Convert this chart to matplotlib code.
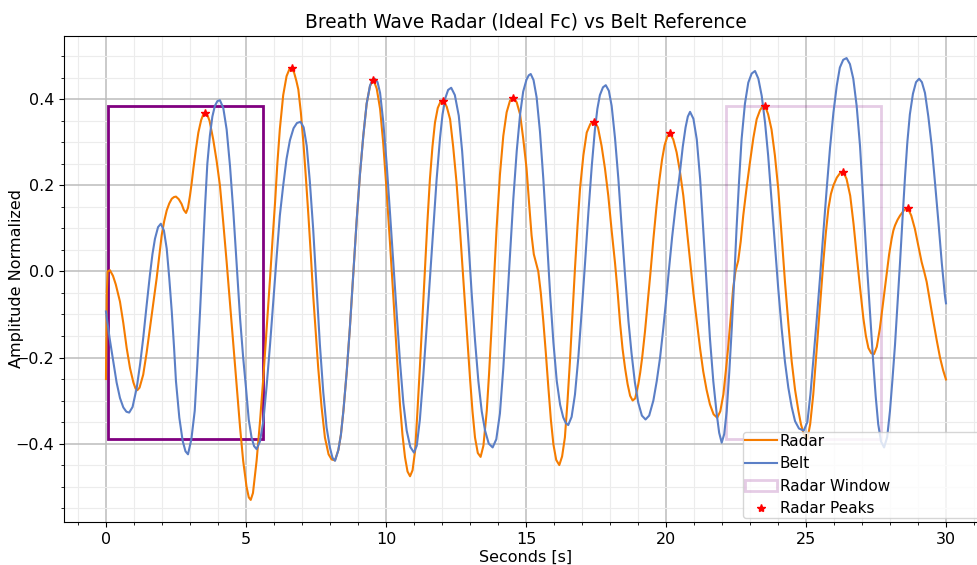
import numpy as np
import matplotlib
matplotlib.use("Agg")
import matplotlib.pyplot as plt
from matplotlib.patches import Rectangle
from matplotlib.ticker import MultipleLocator

# radar signal (time [s], amplitude)
radar_t = [0, 0.03, 0.06, 0.14, 0.25, 0.35, 0.5, 0.62, 0.74, 0.86, 0.98, 1.05, 1.12,
           1.2, 1.33, 1.45, 1.57, 1.69, 1.81, 1.9, 1.99, 2.08, 2.17, 2.26, 2.35, 2.43, 2.5,
           2.6, 2.7, 2.78, 2.86, 2.93, 3.0, 3.06, 3.12, 3.21, 3.3, 3.4, 3.47, 3.54,
           3.62, 3.7, 3.83, 3.95, 4.07, 4.19, 4.31, 4.43, 4.55, 4.67, 4.79, 4.9, 5.02, 5.1, 5.17,
           5.25, 5.38, 5.5, 5.62, 5.74, 5.86, 5.95, 6.04, 6.12, 6.21, 6.33, 6.45, 6.55, 6.63,
           6.72, 6.8, 6.87, 6.96, 7.05, 7.14, 7.23, 7.32, 7.4, 7.49, 7.58, 7.7, 7.82, 7.95, 8.06, 8.18,
           8.3, 8.39, 8.48, 8.6, 8.71, 8.83, 8.95, 9.07, 9.19, 9.31, 9.43, 9.55,
           9.67, 9.79, 9.9, 10.02, 10.14, 10.26, 10.38, 10.5, 10.59, 10.68, 10.77, 10.86,
           10.95, 11.04, 11.12, 11.21, 11.3, 11.39, 11.48, 11.57, 11.66, 11.75, 11.85, 11.95, 12.05,
           12.17, 12.29, 12.4, 12.52, 12.64, 12.76, 12.88, 13.0, 13.09, 13.18, 13.28, 13.38,
           13.48, 13.6, 13.68, 13.77, 13.86, 13.95, 14.07, 14.19, 14.31, 14.43, 14.55,
           14.67, 14.79, 14.9, 15.02, 15.11, 15.2, 15.28, 15.36, 15.44, 15.53, 15.62, 15.71, 15.8,
           15.89, 15.98, 16.08, 16.19,
           16.29, 16.39, 16.48, 16.57, 16.66, 16.75, 16.84, 16.93, 17.05, 17.17, 17.3, 17.44,
           17.57, 17.7, 17.82, 17.94, 18.06, 18.18, 18.27, 18.36, 18.45, 18.54, 18.63, 18.72, 18.81,
           18.9, 19.01, 19.08, 19.15, 19.25, 19.35, 19.45, 19.55, 19.66, 19.76, 19.86, 19.95, 20.05, 20.14,
           20.26, 20.38, 20.5, 20.62, 20.74, 20.86, 20.98, 21.1, 21.22, 21.33, 21.45, 21.57, 21.7, 21.83,
           21.94, 22.05, 22.14, 22.23, 22.32, 22.4, 22.48, 22.58, 22.67, 22.76, 22.88, 23.0, 23.12,
           23.24, 23.36, 23.45, 23.54,
           23.65, 23.77, 23.89, 24.01, 24.13, 24.25, 24.37, 24.49, 24.61, 24.73, 24.82, 24.92, 25.05,
           25.15, 25.26, 25.35, 25.44, 25.53, 25.62, 25.71, 25.8, 25.89, 25.98, 26.1, 26.22, 26.33,
           26.45, 26.58, 26.7, 26.81, 26.93, 27.05, 27.14, 27.23, 27.33, 27.43,
           27.53, 27.64, 27.76, 27.88, 27.97, 28.06, 28.12, 28.18, 28.27, 28.36, 28.5, 28.63,
           28.76, 28.89, 29.01, 29.13, 29.22, 29.31, 29.43, 29.55, 29.67, 29.79, 29.9, 30.0]
radar_v = [-0.25, -0.05, 0.0, 0.003, -0.01, -0.03, -0.07, -0.12, -0.178, -0.225, -0.258, -0.271, -0.276,
           -0.27, -0.24, -0.19, -0.132, -0.075, -0.016, 0.035, 0.084, 0.117, 0.142, 0.158, 0.169, 0.173, 0.174,
           0.168, 0.157, 0.143, 0.136, 0.148, 0.176, 0.205, 0.238, 0.283, 0.323, 0.352, 0.364, 0.369,
           0.364, 0.35, 0.307, 0.258, 0.2, 0.113, 0.022, -0.075, -0.17, -0.268, -0.363, -0.44, -0.5, -0.525, -0.531,
           -0.515, -0.44, -0.35, -0.247, -0.132, -0.016, 0.075, 0.161, 0.25, 0.331, 0.41, 0.454, 0.47, 0.473,
           0.462, 0.443, 0.423, 0.37, 0.3, 0.218, 0.13, 0.035, -0.055, -0.14, -0.224, -0.315, -0.386, -0.425, -0.437, -0.439,
           -0.415, -0.38, -0.324, -0.232, -0.132, -0.01, 0.115, 0.225, 0.315, 0.39, 0.431, 0.446,
           0.425, 0.378, 0.3, 0.19, 0.07, -0.055, -0.185, -0.309, -0.38, -0.432, -0.465, -0.476,
           -0.462, -0.417, -0.33, -0.224, -0.11, 0.007, 0.115, 0.215, 0.29, 0.346, 0.38, 0.395, 0.397,
           0.383, 0.354, 0.29, 0.207, 0.1, -0.016, -0.135, -0.247, -0.325, -0.386, -0.422, -0.431,
           -0.405, -0.324, -0.24, -0.132, -0.015, 0.099, 0.225, 0.315, 0.37, 0.397, 0.404,
           0.393, 0.365, 0.31, 0.24, 0.16, 0.084, 0.04, 0.02, 0.0, -0.05, -0.116, -0.19, -0.27,
           -0.345, -0.402, -0.438, -0.45,
           -0.43, -0.386, -0.305, -0.209, -0.1, 0.007, 0.105, 0.192, 0.27, 0.323, 0.343, 0.348,
           0.335, 0.292, 0.24, 0.176, 0.095, 0.02, -0.045, -0.12, -0.18, -0.225, -0.262, -0.289, -0.3,
           -0.295, -0.263, -0.235, -0.2, -0.14, -0.07, 0.0, 0.075, 0.15, 0.21, 0.26, 0.293, 0.314, 0.321,
           0.307, 0.277, 0.232, 0.176, 0.1, 0.022, -0.05, -0.116, -0.18, -0.232, -0.275, -0.309, -0.332, -0.34,
           -0.325, -0.286, -0.23, -0.17, -0.1, -0.039, 0.0, 0.025, 0.07, 0.13, 0.195, 0.254, 0.31,
           0.354, 0.375, 0.383, 0.385,
           0.365, 0.33, 0.27, 0.192, 0.085, -0.024, -0.12, -0.209, -0.275, -0.324, -0.355, -0.378, -0.39,
           -0.355, -0.286, -0.21, -0.132, -0.055, 0.022, 0.09, 0.146, 0.18, 0.2, 0.218, 0.229, 0.232,
           0.215, 0.176, 0.11, 0.038, -0.037, -0.109, -0.15, -0.178, -0.19, -0.192,
           -0.175, -0.132, -0.07, -0.008, 0.04, 0.076, 0.095, 0.107, 0.12, 0.13, 0.142, 0.148,
           0.13, 0.099, 0.06, 0.022, 0.0, -0.024, -0.07, -0.116, -0.16, -0.201, -0.23, -0.251]

# belt reference signal
belt_t = [0, 0.13, 0.26, 0.38, 0.5, 0.62, 0.73, 0.83, 0.95, 1.1, 1.22, 1.33, 1.45, 1.57, 1.66, 1.75,
          1.86, 1.96, 2.07, 2.17, 2.26, 2.35, 2.43, 2.5, 2.62, 2.74, 2.84, 2.93, 3.05, 3.17, 3.26,
          3.36, 3.45, 3.54, 3.62, 3.71, 3.8, 3.89, 3.98, 4.07, 4.19, 4.31, 4.43, 4.55, 4.67, 4.79,
          4.9, 5.0, 5.1, 5.2, 5.29, 5.38, 5.5, 5.62, 5.74, 5.86, 5.98, 6.1, 6.21, 6.33, 6.45, 6.57,
          6.7, 6.82, 6.95, 7.06, 7.17, 7.28, 7.4, 7.52, 7.64, 7.76, 7.88, 8.0, 8.09, 8.18,
          8.3, 8.39, 8.48, 8.6, 8.71, 8.83, 8.95, 9.07, 9.19, 9.31, 9.43, 9.52, 9.6,
          9.7, 9.79, 9.9, 10.02, 10.14, 10.26, 10.38, 10.5, 10.62, 10.74, 10.87, 11.0,
          11.1, 11.21, 11.33, 11.45, 11.57, 11.69, 11.81, 11.93, 12.02, 12.12, 12.22, 12.33,
          12.46, 12.6, 12.72, 12.83, 12.95, 13.06, 13.18, 13.3, 13.42, 13.54, 13.67, 13.81,
          13.94, 14.07, 14.19, 14.31, 14.43, 14.55, 14.67, 14.79, 14.9, 15.02, 15.1, 15.17,
          15.27, 15.38, 15.5, 15.62, 15.74, 15.86, 15.98, 16.1, 16.22, 16.33, 16.42, 16.51,
          16.63, 16.75, 16.87, 16.99, 17.11, 17.23, 17.35, 17.46, 17.55, 17.64, 17.75, 17.85,
          17.96, 18.06, 18.18, 18.3, 18.42, 18.54, 18.66, 18.77, 18.89, 19.01, 19.14, 19.27,
          19.4, 19.55, 19.67, 19.79, 19.9, 20.0, 20.1, 20.22, 20.35, 20.48, 20.6, 20.7, 20.78, 20.86,
          20.98, 21.1, 21.22, 21.33, 21.45, 21.57, 21.69, 21.81, 21.9, 21.99,
          22.08, 22.17, 22.26, 22.35, 22.44, 22.52, 22.61, 22.7, 22.82, 22.94, 23.06, 23.18,
          23.3, 23.42, 23.54, 23.65, 23.77, 23.89, 24.01, 24.13, 24.25, 24.37, 24.49, 24.61, 24.75, 24.92,
          25.05, 25.16, 25.26, 25.38, 25.5, 25.62, 25.74, 25.86, 25.98, 26.1, 26.21, 26.33, 26.45,
          26.57, 26.69, 26.81, 26.93, 27.05, 27.17, 27.29, 27.4, 27.49, 27.58, 27.68, 27.79,
          27.9, 28.0, 28.09, 28.18, 28.27, 28.36, 28.45, 28.54, 28.62, 28.71, 28.82, 28.93, 29.04,
          29.14, 29.25, 29.37, 29.49, 29.61, 29.73, 29.85, 29.96, 30.0]
belt_v = [-0.093, -0.155, -0.209, -0.258, -0.294, -0.316, -0.326, -0.328, -0.315, -0.27, -0.215, -0.155, -0.08, -0.008, 0.04, 0.076,
          0.103, 0.111, 0.095, 0.053, -0.015, -0.093, -0.175, -0.255, -0.34, -0.394, -0.418, -0.425, -0.39, -0.324, -0.22,
          -0.093, 0.03, 0.153, 0.25, 0.315, 0.36, 0.385, 0.396, 0.398, 0.38, 0.33, 0.245, 0.138, 0.015, -0.109,
          -0.2, -0.27, -0.345, -0.386, -0.406, -0.413, -0.395, -0.348, -0.265, -0.17, -0.065, 0.038, 0.13, 0.2, 0.262, 0.305,
          0.333, 0.345, 0.348, 0.335, 0.292, 0.21, 0.099, -0.035, -0.17, -0.28, -0.363, -0.41, -0.433, -0.44,
          -0.415, -0.38, -0.324, -0.232, -0.132, -0.01, 0.115, 0.225, 0.315, 0.39, 0.432, 0.446, 0.448,
          0.44, 0.415, 0.35, 0.254, 0.14, 0.022, -0.095, -0.209, -0.305, -0.37, -0.408, -0.421,
          -0.405, -0.345, -0.245, -0.132, -0.015, 0.099, 0.215, 0.31, 0.365, 0.403, 0.422, 0.427,
          0.41, 0.362, 0.28, 0.18, 0.065, -0.05, -0.16, -0.255, -0.325, -0.37, -0.4, -0.409,
          -0.39, -0.33, -0.225, -0.093, 0.04, 0.17, 0.28, 0.365, 0.418, 0.446, 0.456, 0.459,
          0.445, 0.405, 0.325, 0.215, 0.085, -0.05, -0.165, -0.255, -0.31, -0.339, -0.352, -0.357,
          -0.338, -0.286, -0.2, -0.093, 0.02, 0.138, 0.245, 0.328, 0.378, 0.41, 0.428, 0.433,
          0.42, 0.385, 0.31, 0.215, 0.1, -0.01, -0.115, -0.19, -0.258, -0.305, -0.335, -0.344,
          -0.335, -0.3, -0.255, -0.2, -0.135, -0.07, 0.0, 0.08, 0.155, 0.22, 0.29, 0.335, 0.36, 0.371,
          0.355, 0.307, 0.215, 0.099, -0.03, -0.155, -0.255, -0.33, -0.375, -0.398,
          -0.378, -0.324, -0.235, -0.132, -0.015, 0.099, 0.21, 0.307, 0.39, 0.439, 0.46, 0.466,
          0.448, 0.408, 0.345, 0.269, 0.165, 0.061, -0.04, -0.132, -0.21, -0.27, -0.315, -0.348, -0.365, -0.37,
          -0.35, -0.285, -0.209, -0.115, -0.016, 0.09, 0.192, 0.288, 0.369, 0.432, 0.474, 0.492, 0.496,
          0.482, 0.448, 0.385, 0.292, 0.16, 0.022, -0.1, -0.209, -0.29, -0.355, -0.395, -0.409,
          -0.385, -0.324, -0.25, -0.17, -0.075, 0.022, 0.125, 0.223, 0.3, 0.365, 0.413, 0.44, 0.448,
          0.44, 0.415, 0.36, 0.292, 0.205, 0.115, 0.02, -0.055, -0.074]

# detected radar peaks
peak_t = [3.54, 6.63, 9.55, 12.05, 14.55, 17.44, 20.14, 23.54, 26.33, 28.63]
peak_v = [0.369, 0.473, 0.446, 0.397, 0.404, 0.348, 0.321, 0.385, 0.232, 0.148]

# radar windows: (start, end, low, high)
win_first = (0.08, 5.62, -0.39, 0.385)
win_last = (22.14, 27.68, -0.39, 0.385)

fig = plt.figure(figsize=(9.78, 5.65), dpi=100)
ax = fig.add_axes([0.0654, 0.0761, 0.9448, 0.8602])

ax.plot(radar_t, radar_v, color='#f57c00', lw=1.5, label='Radar', zorder=3,
        solid_joinstyle='round')
ax.plot(belt_t, belt_v, color='#5b7fc6', lw=1.5, label='Belt', zorder=3,
        solid_joinstyle='round')

x0, x1, y0, y1 = win_first
ax.add_patch(Rectangle((x0, y0), x1 - x0, y1 - y0, fill=False, edgecolor='purple', lw=2, zorder=2))
x0, x1, y0, y1 = win_last
ax.add_patch(Rectangle((x0, y0), x1 - x0, y1 - y0, fill=False, edgecolor='purple', alpha=0.2,
                       lw=2, zorder=2, label='Radar Window'))

ax.plot(peak_t, peak_v, '*', color='red', ms=6, label='Radar Peaks', zorder=4)

ax.xaxis.set_major_locator(MultipleLocator(5))
ax.xaxis.set_minor_locator(MultipleLocator(1))
ax.yaxis.set_major_locator(MultipleLocator(0.2))
ax.yaxis.set_minor_locator(MultipleLocator(0.05))
ax.grid(which='major', color='#bcbcbc', lw=1.1)
ax.grid(which='minor', color='#ececec', lw=0.8)
ax.set_axisbelow(True)
ax.tick_params(which='major', labelsize=11.5, length=3.5)
ax.tick_params(which='minor', length=2)

ax.set_title('Breath Wave Radar (Ideal Fc) vs Belt Reference', fontsize=13.4)
ax.set_xlabel('Seconds [s]', fontsize=11.5, labelpad=2)
ax.set_ylabel('Amplitude Normalized', fontsize=11.5, labelpad=-6)

# legend sits at the lower right and runs past the figure edge
ax.legend(loc='lower left', mode='expand', fontsize=11,
          bbox_to_anchor=(0.7597, 0.0832, 0.27, 0.15), bbox_transform=fig.transFigure,
          borderaxespad=0, handlelength=2.1, handletextpad=0.2, labelspacing=0.5,
          borderpad=0.1)

fig.savefig('out.png', dpi=100)
